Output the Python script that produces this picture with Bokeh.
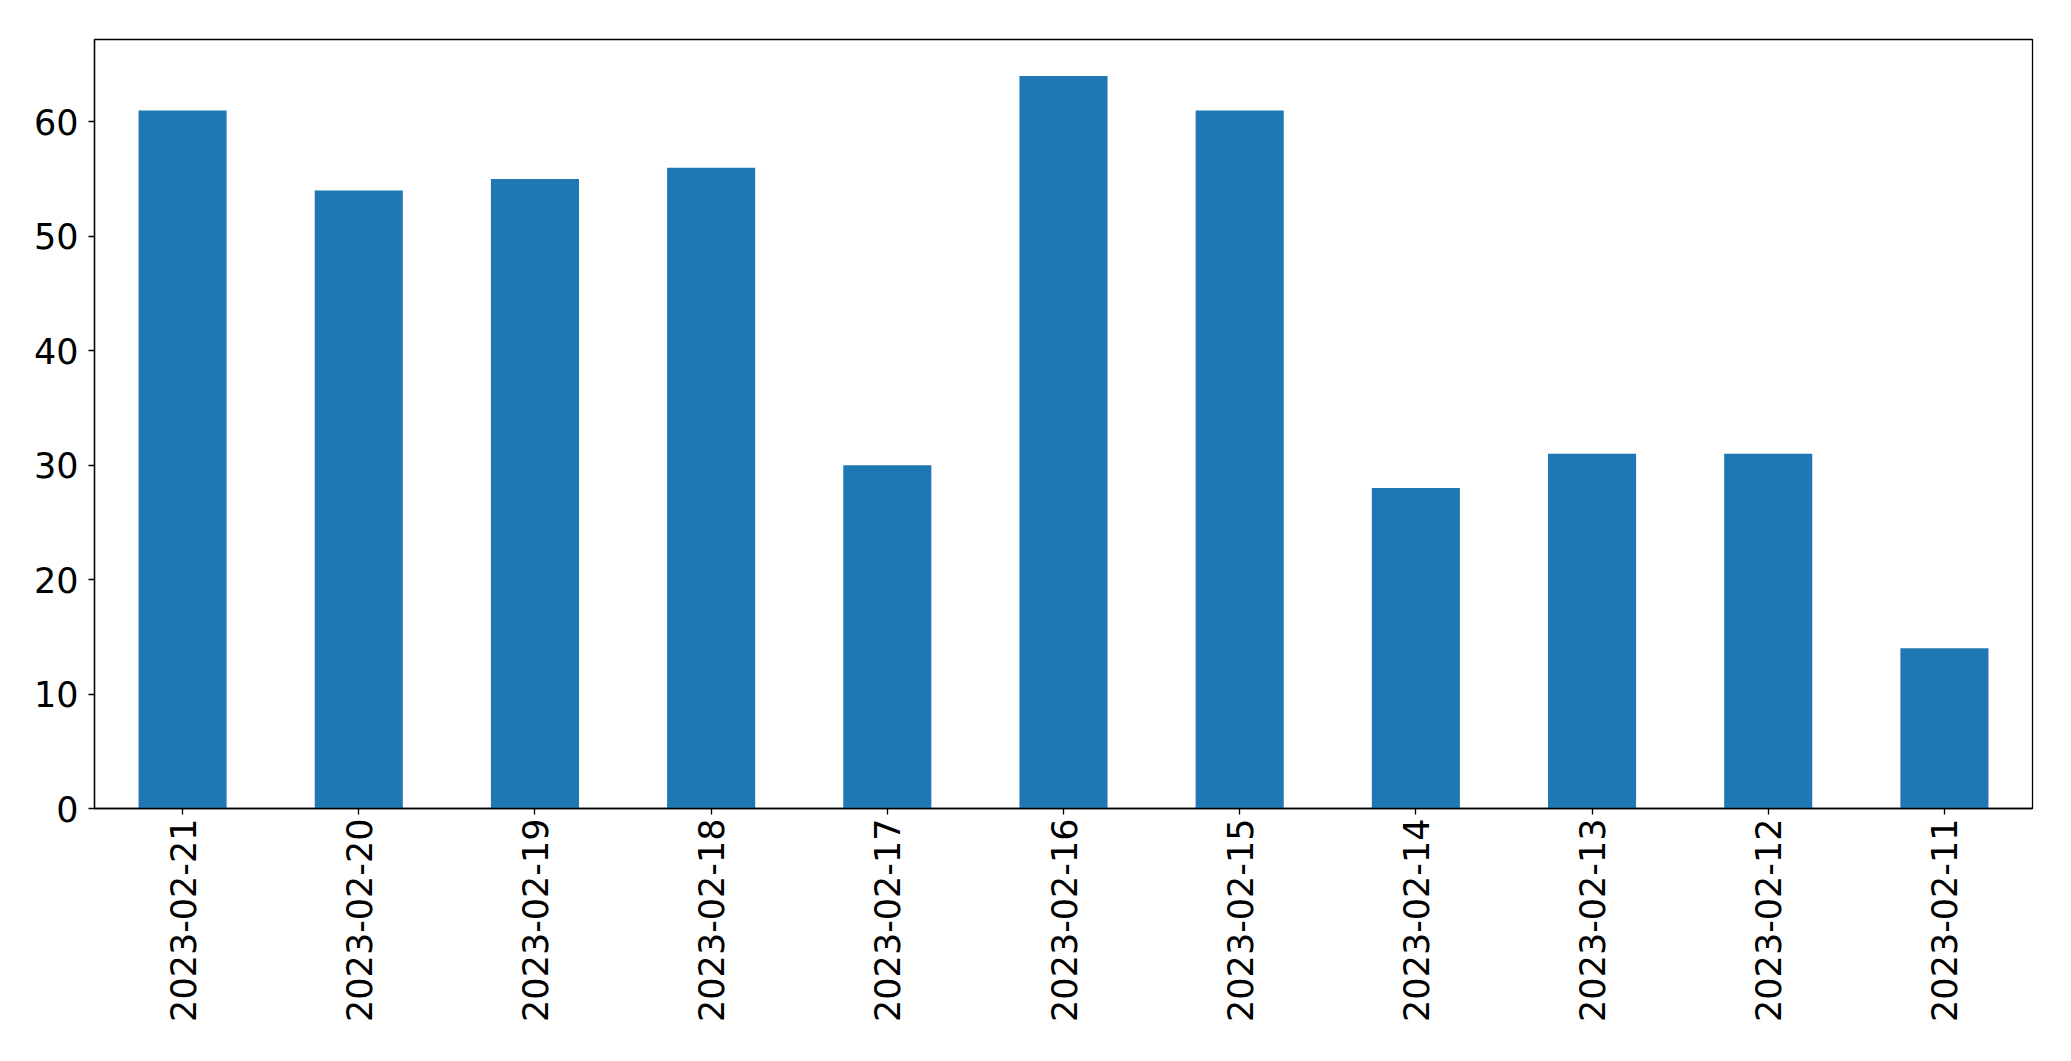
import math
from bokeh.plotting import figure
from bokeh.models import FactorRange, Range1d, FixedTicker
from bokeh.embed import file_html
from bokeh.resources import INLINE

dates = ["2023-02-21", "2023-02-20", "2023-02-19", "2023-02-18", "2023-02-17",
         "2023-02-16", "2023-02-15", "2023-02-14", "2023-02-13", "2023-02-12",
         "2023-02-11"]
counts = [61, 54, 55, 56, 30, 64, 61, 28, 31, 31, 14]
y_ticks = [0, 10, 20, 30, 40, 50, 60]

p = figure(width=2055, height=1045, x_range=FactorRange(factors=dates),
           y_range=Range1d(0, 67.2), output_backend="svg", toolbar_location=None,
           min_border_left=94, min_border_right=23, min_border_top=39, min_border_bottom=237)

p.vbar(x=dates, top=counts, width=0.5, fill_color="#1f77b4", line_color=None)

p.xgrid.visible = False
p.ygrid.visible = False
p.outline_line_color = "black"
p.outline_line_width = 1.3
p.outline_line_alpha = 1

for ax in (p.xaxis[0], p.yaxis[0]):
    ax.axis_line_color = "black"
    ax.axis_line_width = 1.3
    ax.major_tick_line_color = "black"
    ax.major_tick_line_width = 1.3
    ax.major_tick_out = 6
    ax.major_tick_in = 0
    ax.minor_tick_line_color = None
    ax.major_label_text_font = "DejaVu Sans"
    ax.major_label_text_font_size = "35px"
    ax.major_label_text_color = "black"

p.yaxis.ticker = FixedTicker(ticks=y_ticks)
p.yaxis.major_label_standoff = 10
p.xaxis.major_label_orientation = math.pi / 2
p.xaxis.major_label_standoff = 4

open("out.html", "w").write(file_html(p, INLINE))
